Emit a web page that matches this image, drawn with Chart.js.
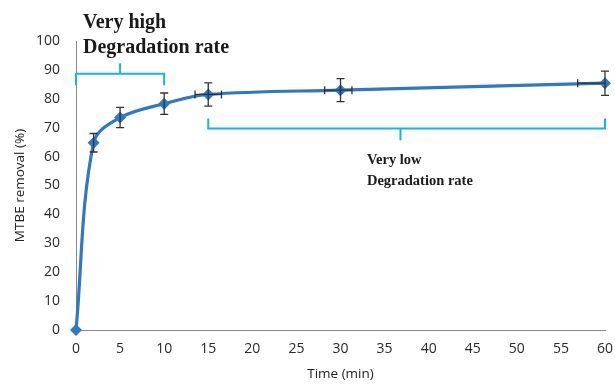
<!DOCTYPE html>
<html><head><meta charset="utf-8">
<script src="https://cdn.jsdelivr.net/npm/chart.js@4/dist/chart.umd.min.js"></script>
<style>html,body{margin:0;padding:0;background:#fff}#wrap{width:615px;height:386px}</style>
</head><body><div id="wrap"><canvas id="c" width="615" height="386"></canvas></div>
<script>
const times = [0, 2, 5, 10, 15, 30, 60];
const removal = [0, 64.8, 73.5, 78.3, 81.5, 83, 85.4];
const yErr = [0, 3.2, 3.5, 3.7, 4, 4, 4.2];
const xErrLeft = [0, 0, 0, 0, 1.5, 1.8, 3.1];
const xErrRight = [0, 0, 0, 0, 1.5, 1.3, 0];
const xTicks = [0,5,10,15,20,25,30,35,40,45,50,55,60];
const yTicks = [0,10,20,30,40,50,60,70,80,90,100];

const extras = {
  id: 'extras',
  afterDatasetsDraw(chart) {
    const {ctx, scales:{x, y}} = chart;
    ctx.save();
    ctx.strokeStyle = '#333';
    ctx.lineWidth = 1.3;
    times.forEach((t,i)=>{
      const px = x.getPixelForValue(t), py = y.getPixelForValue(removal[i]);
      if (yErr[i] > 0) {
        const t1 = y.getPixelForValue(removal[i]+yErr[i]), b1 = y.getPixelForValue(removal[i]-yErr[i]);
        ctx.beginPath();
        ctx.moveTo(px, t1); ctx.lineTo(px, b1);
        ctx.moveTo(px-4, t1); ctx.lineTo(px+4, t1);
        ctx.moveTo(px-4, b1); ctx.lineTo(px+4, b1);
        ctx.stroke();
      }
      if (xErrLeft[i] > 0 || xErrRight[i] > 0) {
        const l = x.getPixelForValue(t - xErrLeft[i]), r = x.getPixelForValue(t + xErrRight[i]);
        ctx.beginPath();
        ctx.moveTo(l, py); ctx.lineTo(r, py);
        if (xErrLeft[i] > 0) { ctx.moveTo(l, py-4); ctx.lineTo(l, py+4); }
        if (xErrRight[i] > 0) { ctx.moveTo(r, py-4); ctx.lineTo(r, py+4); }
        ctx.stroke();
      }
    });
    ctx.strokeStyle = '#1ab2ea';
    ctx.lineWidth = 2;
    const bx0 = x.getPixelForValue(0), bx1 = x.getPixelForValue(10), bxm = x.getPixelForValue(5);
    const by = y.getPixelForValue(88.7), byEnd = y.getPixelForValue(84.7), byMid = y.getPixelForValue(92.3);
    ctx.beginPath();
    ctx.moveTo(bx0, byEnd); ctx.lineTo(bx0, by); ctx.lineTo(bx1, by); ctx.lineTo(bx1, byEnd);
    ctx.moveTo(bxm, by); ctx.lineTo(bxm, byMid);
    ctx.stroke();
    const cx0 = x.getPixelForValue(15), cx1 = x.getPixelForValue(60), cxm = x.getPixelForValue(36.8);
    const cy = y.getPixelForValue(69.7), cyEnd = y.getPixelForValue(73.2), cyMid = y.getPixelForValue(65.7);
    ctx.beginPath();
    ctx.moveTo(cx0, cyEnd); ctx.lineTo(cx0, cy); ctx.lineTo(cx1, cy); ctx.lineTo(cx1, cyEnd);
    ctx.moveTo(cxm, cy); ctx.lineTo(cxm, cyMid);
    ctx.stroke();
    ctx.fillStyle = '#1a1a1a';
    ctx.textBaseline = 'alphabetic';
    ctx.font = 'bold 20px "Liberation Serif", "DejaVu Serif", serif';
    ctx.fillText('Very high', x.getPixelForValue(0.8), 28);
    ctx.fillText('Degradation rate', x.getPixelForValue(0.8), 53);
    ctx.font = 'bold 14.5px "Liberation Serif", "DejaVu Serif", serif';
    ctx.fillText('Very low', x.getPixelForValue(33), y.getPixelForValue(57.4));
    ctx.fillText('Degradation rate', x.getPixelForValue(33), y.getPixelForValue(50.2));
    ctx.restore();
  }
};

new Chart(document.getElementById('c'), {
  type: 'line',
  data: {
    datasets: [{
      data: times.map((t,i)=>({x:t, y:removal[i]})),
      borderColor: '#2f78c4',
      backgroundColor: '#2f78c4',
      borderWidth: 3.2,
      tension: 0.35,
      pointStyle: 'rectRot',
      pointRadius: 6,
      pointBorderWidth: 0,
      clip: false
    }]
  },
  options: {
    responsive: false,
    animation: false,
    layout: { padding: { top: 41, right: 10, left: 0, bottom: 0 } },
    plugins: { legend: { display: false }, tooltip: { enabled: false } },
    scales: {
      x: {
        type: 'linear', min: 0, max: 60,
        afterBuildTicks: s => { s.ticks = xTicks.map(v=>({value:v})); },
        afterFit: s => { s.height = 56; s.paddingRight = 0; s.paddingLeft = 0; },
        grid: { display: false, drawOnChartArea: false, drawTicks: true, tickLength: 5, color: '#888' },
        border: { color: '#888', width: 1 },
        ticks: { color: '#2a2a2a', font: { family: '"Open Sans", "Liberation Sans", sans-serif', size: 14 }, padding: 6, maxRotation: 0 },
        title: { display: true, text: 'Time (min)', color: '#222', font: { family: '"Open Sans", "Liberation Sans", sans-serif', size: 13.5 }, padding: { top: 7 } }
      },
      y: {
        min: 0, max: 100,
        afterBuildTicks: s => { s.ticks = yTicks.map(v=>({value:v})); },
        afterFit: s => { s.width = 76; s.paddingTop = 0; s.paddingBottom = 0; },
        grid: { display: false, drawOnChartArea: false, drawTicks: true, tickLength: 5, color: '#888' },
        border: { color: '#888', width: 1 },
        ticks: { color: '#2a2a2a', font: { family: '"Open Sans", "Liberation Sans", sans-serif', size: 14 }, padding: 11 },
        title: { display: true, text: 'MTBE removal (%)', color: '#222', font: { family: '"Open Sans", "Liberation Sans", sans-serif', size: 13.5 }, padding: { top: 12, bottom: 0 } }
      }
    }
  },
  plugins: [extras]
});
</script>
</body></html>
